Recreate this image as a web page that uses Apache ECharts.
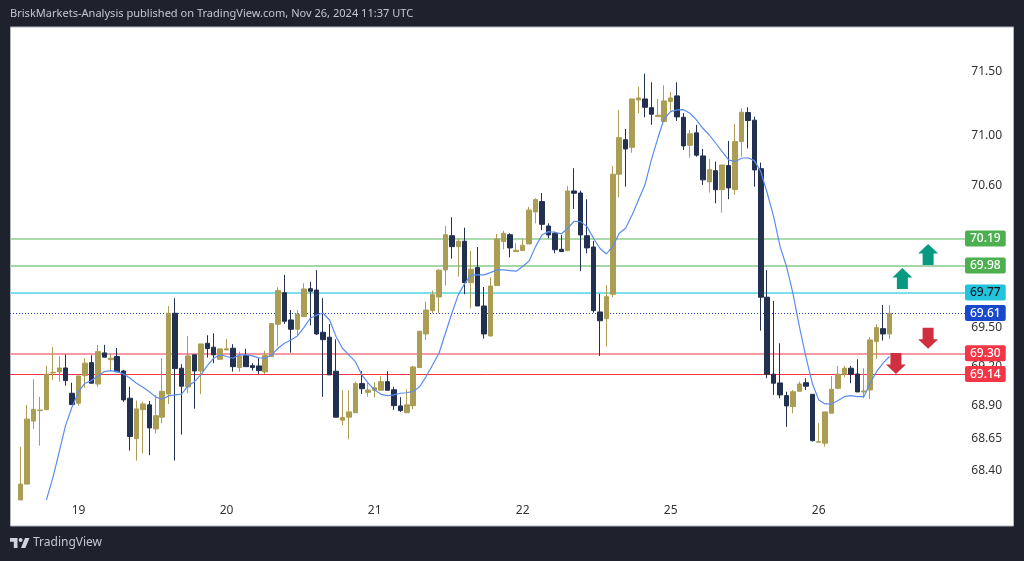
<!DOCTYPE html>
<html><head><meta charset="utf-8">
<style>html,body{margin:0;padding:0;background:#1e222d}#c{width:1024px;height:561px}</style>
<script src="https://cdn.jsdelivr.net/npm/echarts@6/dist/echarts.min.js"></script>
</head><body><div id="c"></div>
<script>
const opens=[68.18,68.30,68.78,68.86,68.867,69.149,69.157,69.187,68.993,68.917,69.128,69.228,69.064,69.303,69.251,69.275,69.164,68.955,68.646,68.867,68.904,68.72,68.81,68.987,69.609,69.185,69.041,69.288,69.164,69.377,69.347,69.254,69.326,69.339,69.19,69.282,69.205,69.203,69.157,69.275,69.524,69.768,69.557,69.485,69.583,69.799,69.789,69.462,69.424,69.162,68.787,68.81,68.844,69.067,69.0,69.016,69.016,69.082,69.02,68.896,68.844,68.898,69.19,69.449,69.629,69.735,69.945,70.211,70.126,70.168,69.846,69.963,69.665,69.434,69.823,70.165,70.219,70.087,70.095,70.147,70.397,70.478,70.287,70.23,70.105,70.095,70.561,70.545,70.211,70.123,69.619,69.567,69.756,70.692,70.964,70.904,71.278,71.286,71.217,71.146,71.107,71.265,71.31,71.141,70.92,71.018,70.836,70.632,70.72,70.571,70.76,70.571,70.949,71.178,71.118,70.736,69.733,69.139,69.072,68.975,68.891,69.008,69.074,68.985,68.619,68.611,68.84,69.031,69.139,69.185,69.141,69.003,69.018,69.39,69.49,69.449];
const closes=[68.30,68.795,68.87,68.865,69.139,69.154,69.187,69.09,68.906,69.126,69.224,69.07,69.313,69.27,69.262,69.157,68.942,68.662,68.873,68.911,68.728,68.821,69.008,69.609,69.182,69.047,69.28,69.164,69.372,69.336,69.288,69.334,69.334,69.197,69.28,69.197,69.19,69.167,69.282,69.529,69.784,69.547,69.485,69.603,69.797,69.779,69.449,69.405,69.134,68.81,68.807,68.85,69.067,69.028,69.018,69.036,69.082,69.016,68.898,68.86,68.904,69.195,69.47,69.634,69.753,69.943,70.219,70.126,70.168,69.846,69.95,69.665,69.449,69.82,70.186,70.23,70.116,70.098,70.137,70.411,70.493,70.3,70.217,70.102,70.087,70.561,70.543,70.217,70.116,69.629,69.551,69.737,70.692,70.98,70.891,71.286,71.294,71.22,71.165,71.157,71.27,71.294,71.144,70.915,71.01,70.842,70.648,70.728,70.571,70.765,70.585,70.949,71.181,71.115,70.726,69.733,69.139,69.07,68.98,68.896,69.005,69.064,69.047,68.631,68.623,68.85,69.023,69.139,69.185,69.139,69.003,69.01,69.403,69.498,69.449,69.609];
const lows=[68.18,68.30,68.72,68.593,68.867,69.095,69.082,69.051,68.906,68.898,69.036,69.07,69.043,69.27,69.164,69.157,68.927,68.555,68.479,68.535,68.52,68.685,68.764,68.911,68.479,68.677,68.993,68.875,68.987,69.267,69.224,69.254,69.326,69.159,69.159,69.197,69.167,69.141,69.141,69.275,69.352,69.526,69.305,69.441,69.583,69.516,69.441,68.965,69.134,68.81,68.749,68.641,68.844,68.987,68.967,68.96,69.016,69.016,68.865,68.85,68.844,68.87,69.19,69.403,69.609,69.609,69.823,70.032,69.893,69.756,69.647,69.665,69.413,69.429,69.823,70.105,70.043,70.087,70.095,70.147,70.308,70.256,70.191,70.074,70.087,70.09,70.42,69.935,70.074,69.613,69.28,69.352,69.733,70.512,70.595,70.862,71.173,71.141,71.081,71.146,71.107,71.186,71.112,70.883,70.822,70.83,70.609,70.548,70.465,70.392,70.496,70.532,70.83,70.896,70.595,69.475,69.108,68.98,68.955,68.736,68.84,69.008,69.018,68.623,68.619,68.585,68.84,69.023,69.116,69.07,69.003,68.955,68.95,69.257,69.398,69.41];
const highs=[68.585,68.904,69.10,68.965,69.203,69.349,69.277,69.29,69.074,69.126,69.262,69.285,69.365,69.365,69.293,69.341,69.172,69.043,68.937,68.929,68.934,68.978,69.262,69.665,69.725,69.216,69.434,69.288,69.372,69.439,69.454,69.334,69.408,69.37,69.313,69.334,69.224,69.262,69.32,69.529,69.81,69.906,69.634,69.634,69.841,69.851,69.943,69.725,69.526,69.408,69.016,69.016,69.082,69.162,69.077,69.077,69.123,69.162,69.043,68.963,69.023,69.203,69.47,69.699,69.784,69.95,70.287,70.355,70.188,70.274,70.092,70.123,69.812,69.888,70.225,70.25,70.23,70.152,70.188,70.436,70.504,70.545,70.308,70.243,70.217,70.6,70.739,70.563,70.496,70.17,69.76,69.828,70.757,71.197,71.049,71.286,71.383,71.487,71.418,71.286,71.394,71.341,71.418,71.173,71.041,71.081,70.891,70.813,70.791,70.765,70.954,71.088,71.212,71.22,71.146,70.784,69.943,69.704,69.377,69.005,69.018,69.082,69.108,68.985,68.764,68.85,69.126,69.203,69.203,69.203,69.254,69.185,69.424,69.524,69.673,69.673];
const maStart=4;
const maValues=[68.18,68.347,68.547,68.751,68.89,69.005,69.07,69.09,69.126,69.159,69.167,69.159,69.141,69.108,69.07,69.039,69.005,68.963,68.947,68.973,68.98,68.987,69.049,69.082,69.134,69.205,69.262,69.288,69.275,69.262,69.288,69.288,69.28,69.265,69.262,69.288,69.339,69.377,69.403,69.434,69.498,69.57,69.596,69.609,69.557,69.429,69.339,69.288,69.236,69.134,69.07,69.018,68.985,68.975,68.98,68.993,68.997,69.008,69.043,69.121,69.21,69.3,69.454,69.609,69.751,69.841,69.906,69.906,69.906,69.924,69.945,69.945,69.94,69.935,69.971,70.014,70.126,70.217,70.243,70.238,70.225,70.269,70.324,70.321,70.282,70.191,70.113,70.069,70.126,70.23,70.269,70.373,70.491,70.609,70.805,70.975,71.133,71.186,71.199,71.201,71.173,71.12,71.054,71.001,70.936,70.87,70.805,70.791,70.818,70.822,70.799,70.713,70.545,70.36,70.126,69.971,69.763,69.505,69.275,69.07,68.942,68.911,68.911,68.937,68.967,68.975,68.967,68.967,69.07,69.159,69.224,69.275];
const dayLabels=['19','20','21','22','25','26'];
const dayCandles=[9,32,55,78,101,124];
const priceTicks=[71.5,71,70.6,69.5,69.2,68.9,68.65,68.4];
const levelValues=[70.19,69.98,69.77,69.61,69.30,69.14];
const levelColors=['#8fce92','#a5d6a7','#80deea','#1848cc','#f59aa3','#f23645'];
const levelWidths=[1.5,2,2,1,2,1];
const badgeColors=['#4caf50','#4caf50','#22c4dc','#1848cc','#f23645','#f23645'];
const badgeText=['#ffffff','#ffffff','#131722','#ffffff','#ffffff','#ffffff'];
const upArrows=[[138,69.879],[142,70.065]];
const downArrows=[[142,69.415],[137,69.222]];

const bandCount=156;
const categories=Array.from({length:bandCount},(_,i)=>{
  const d=dayCandles.indexOf(i-1);
  return d>=0?dayLabels[d]:'';
});
const upPath='path://M10 0L20 9.5H15.5V21H4.5V9.5H0Z';
const downPath='path://M4.5 0H15.5V11.5H20L10 21L0 11.5H4.5Z';
const chart=echarts.init(document.getElementById('c'));
chart.setOption({
  animation:false,
  backgroundColor:'#1e222d',
  textStyle:{fontFamily:'"Noto Sans",sans-serif'},
  graphic:[
    {type:'rect',z:-10,shape:{x:10.5,y:27,width:1003,height:499},style:{fill:'#ffffff',stroke:'#b2b5be',lineWidth:1}},
    {type:'text',x:10,y:8,style:{text:'BriskMarkets-Analysis published on TradingView.com, Nov 26, 2024 11:37 UTC',fill:'#c4c7cf',font:'11.05px "Noto Sans"'}},
    {type:'polygon',shape:{points:[[10,538],[17.5,538],[17.5,548],[13.8,548],[13.8,541.8],[10,541.8]]},style:{fill:'#d1d4dc'}},
    {type:'circle',shape:{cx:20.6,cy:540,r:2},style:{fill:'#d1d4dc'}},
    {type:'polygon',shape:{points:[[25,538],[29.5,538],[25.3,548],[21,548]]},style:{fill:'#d1d4dc'}},
    {type:'text',x:33,y:537,style:{text:'TradingView',fill:'#c4c7cf',font:'12px "Noto Sans"'}}
  ],
  grid:{left:11,top:27,width:1004,height:499,show:false},
  xAxis:{type:'category',data:categories,boundaryGap:true,
    axisLine:{show:false},axisTick:{show:false},splitLine:{show:false},
    axisLabel:{inside:true,interval:0,margin:9,color:'#333',fontSize:12}},
  yAxis:{type:'log',position:'right',min:67.983,max:71.858,
    axisLine:{show:false},axisTick:{show:false},splitLine:{show:false},minorSplitLine:{show:false},
    axisLabel:{inside:true,margin:13,color:'#333',fontSize:12,customValues:priceTicks,
      formatter:v=>Number(v).toFixed(2)}},
  series:[
    {type:'candlestick',name:'Price',z:3,barWidth:5,encode:{x:0,y:[1,2,3,4]},
      data:opens.map((o,i)=>[i+1,o,closes[i],lows[i],highs[i]]),
      itemStyle:{color:'#ab9d54',color0:'#233150',borderColor:'#ab9d54',borderColor0:'#233150',borderWidth:1}},
    {type:'line',name:'MA',z:4,showSymbol:false,symbol:'none',
      data:maValues.map((v,i)=>[i+maStart+1,v]),
      lineStyle:{color:'#5b8def',width:1.2},
      markLine:{silent:true,z:1,symbol:'none',animation:false,
        data:levelValues.map((v,i)=>[
          {yAxis:v,x:10,lineStyle:{color:levelColors[i],width:levelWidths[i],type:i===3?[1,2]:'solid'},
            label:{show:true,position:'end',distance:0,formatter:v.toFixed(2),color:badgeText[i],backgroundColor:badgeColors[i],
              fontSize:12,fontWeight:500,padding:[2,5,2,5],borderRadius:2}},
          {yAxis:v,x:965}
        ])}},
    {type:'scatter',name:'Up',z:5,symbol:upPath,symbolSize:[20,21],data:upArrows,itemStyle:{color:'#089981',opacity:1}},
    {type:'scatter',name:'Down',z:5,symbol:downPath,symbolSize:[20,21],data:downArrows,itemStyle:{color:'#cf2f3e',opacity:1}}
  ]
});
</script></body></html>
